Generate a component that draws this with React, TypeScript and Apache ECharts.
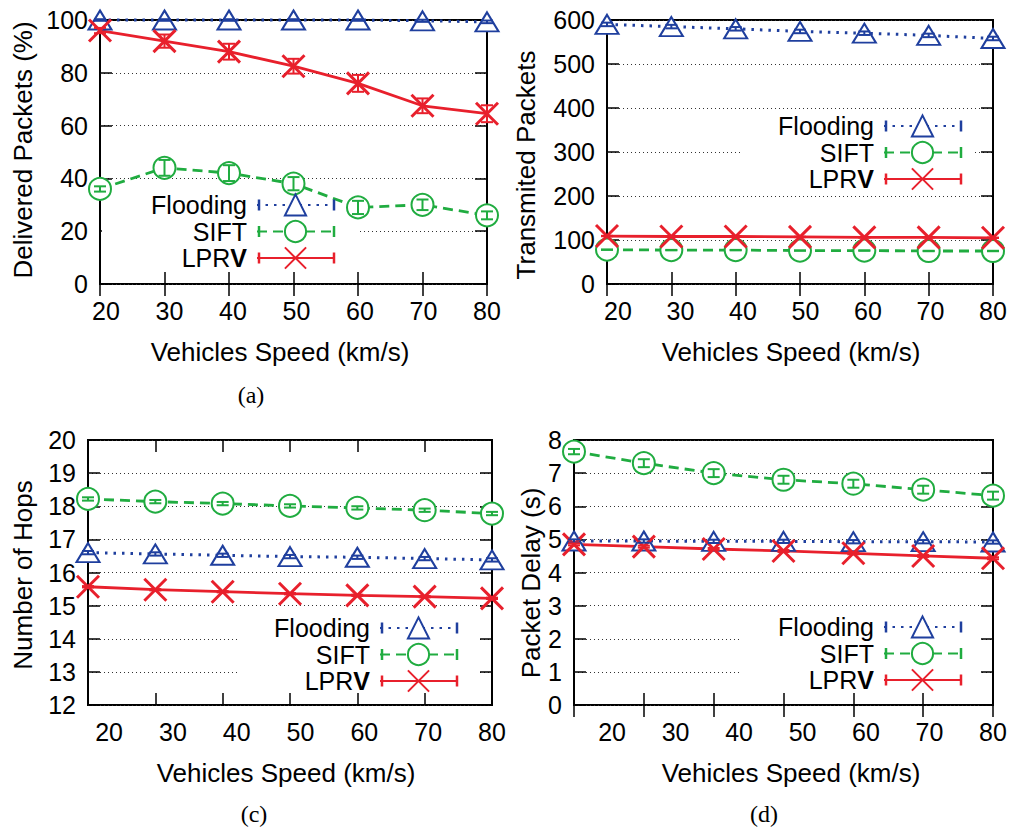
import React, { useEffect, useRef } from 'react';
import * as echarts from 'echarts';

// ---------- data ----------
const speeds = [20, 30, 40, 50, 60, 70, 80];
const seriesNames = ['Flooding', 'SIFT', 'LPRV'];

// (a) Delivered Packets (%)
const deliveredFlooding = [100, 100, 100, 100, 100, 99.7, 99.3];
const deliveredSift = [36, 44, 42, 38, 29, 30, 26];
const deliveredLprv = [96, 92, 88, 82.5, 76, 67.5, 64.5];
const deliveredFloodingErr = [0.3, 0.3, 0.3, 0.3, 0.3, 0.4, 0.5];
const deliveredSiftErr = [1, 3, 3, 2.5, 2.5, 2, 1.5];
const deliveredLprvErr = [1, 2.5, 3, 2.8, 3.2, 2.8, 3.2];

// (b) Transmited Packets
const transmittedFlooding = [590, 585, 580, 574, 570, 565, 558];
const transmittedSift = [78, 77, 77, 76, 76, 75, 75];
const transmittedLprv = [109, 108, 108, 107, 106, 106, 105];
const transmittedFloodingErr = [4, 4, 4, 4, 4, 4, 4];
const transmittedSiftErr = [0.5, 0.5, 0.5, 0.5, 0.5, 0.5, 0.5];
const transmittedLprvErr = [0.5, 0.5, 0.5, 0.5, 0.5, 0.5, 0.5];

// (c) Number of Hops
const hopsFlooding = [16.6, 16.56, 16.52, 16.48, 16.46, 16.42, 16.38];
const hopsSift = [18.22, 18.14, 18.08, 18.01, 17.95, 17.88, 17.78];
const hopsLprv = [15.57, 15.48, 15.42, 15.36, 15.31, 15.27, 15.22];
const hopsFloodingErr = [0.05, 0.05, 0.05, 0.05, 0.05, 0.05, 0.05];
const hopsSiftErr = [0.05, 0.05, 0.05, 0.05, 0.05, 0.05, 0.05];
const hopsLprvErr = [0.02, 0.02, 0.02, 0.02, 0.02, 0.02, 0.02];

// (d) Packet Delay (s)
const delayFlooding = [4.95, 4.95, 4.94, 4.94, 4.93, 4.93, 4.92];
const delaySift = [7.65, 7.3, 7.0, 6.8, 6.68, 6.5, 6.32];
const delayLprv = [4.85, 4.78, 4.71, 4.65, 4.58, 4.5, 4.43];
const delayFloodingErr = [0.05, 0.05, 0.05, 0.05, 0.05, 0.05, 0.05];
const delaySiftErr = [0.08, 0.12, 0.12, 0.12, 0.12, 0.12, 0.12];
const delayLprvErr = [0.03, 0.03, 0.03, 0.03, 0.03, 0.03, 0.03];

// y axis ranges [min, max, interval]
const deliveredRange = [0, 100, 20];
const transmittedRange = [0, 600, 100];
const hopsRange = [12, 20, 1];
const delayRange = [0, 8, 1];

// ---------- style ----------
const BLUE = '#1f3f9e';
const GREEN = '#20ac40';
const RED = '#e8202c';
const SANS = '"Liberation Sans", Arial, Helvetica, sans-serif';
const SERIF = '"Liberation Serif", "DejaVu Serif", serif';
const DOT: number[] = [2.5, 6];
const DASH: number[] = [10, 6];
const X_SYMBOL = 'path://M0,0L20,20M20,0L0,20';

const panels = [
  {
    grid: { left: 100, top: 20, width: 387, height: 264 },
    labelMin: 19.06,
    range: deliveredRange,
    values: [deliveredFlooding, deliveredSift, deliveredLprv],
    errs: [deliveredFloodingErr, deliveredSiftErr, deliveredLprvErr],
    yTitle: 'Delivered Packets (%)', yTitlePos: [23, 150],
    xTitlePos: [280, 352],
    caption: '(a)', captionPos: [251, 395],
    legendRight: 335, legendRowY: 205,
    hideRect: [102, 190, 258, 82],
  },
  {
    grid: { left: 607, top: 20, width: 386, height: 264 },
    labelMin: 18.24,
    range: transmittedRange,
    values: [transmittedFlooding, transmittedSift, transmittedLprv],
    errs: [transmittedFloodingErr, transmittedSiftErr, transmittedLprvErr],
    yTitle: 'Transmited Packets', yTitlePos: [526, 165],
    xTitlePos: [791, 352],
    caption: '', captionPos: [0, 0],
    legendRight: 962, legendRowY: 126,
    hideRect: [740, 113, 235, 78],
  },
  {
    grid: { left: 88, top: 440, width: 404, height: 265 },
    labelMin: 16.7,
    range: hopsRange,
    values: [hopsFlooding, hopsSift, hopsLprv],
    errs: [hopsFloodingErr, hopsSiftErr, hopsLprvErr],
    yTitle: 'Number of Hops', yTitlePos: [23, 575],
    xTitlePos: [286, 773],
    caption: '(c)', captionPos: [254, 814],
    legendRight: 458, legendRowY: 628,
    hideRect: [238, 613, 242, 79],
  },
  {
    grid: { left: 574, top: 440, width: 419, height: 265 },
    labelMin: 14.0,
    range: delayRange,
    values: [delayFlooding, delaySift, delayLprv],
    errs: [delayFloodingErr, delaySiftErr, delayLprvErr],
    yTitle: 'Packet Delay (s)', yTitlePos: [531, 583],
    xTitlePos: [791, 773],
    caption: '(d)', captionPos: [764, 814],
    legendRight: 962, legendRowY: 627,
    hideRect: [741, 613, 240, 79],
  },
];

const seriesStyles = [
  { color: BLUE, symbol: 'emptyTriangle', symbolSize: [23, 19], dash: DOT as any, width: 3, itemStyle: { color: BLUE, borderWidth: 3 } },
  { color: GREEN, symbol: 'emptyCircle', symbolSize: 22, dash: DASH as any, width: 2.8, itemStyle: { color: GREEN, borderWidth: 2.8 } },
  { color: RED, symbol: X_SYMBOL, symbolSize: 22, dash: 'solid' as any, width: 2.8, itemStyle: { color: RED, borderColor: RED, borderWidth: 3 } },
];

function buildOption() {
  const grid: any[] = [];
  const xAxis: any[] = [];
  const yAxis: any[] = [];
  const series: any[] = [];
  const legend: any[] = [];
  const graphic: any[] = [];
  const ITEM_H = 26.5;
  const ITEM_W = 77;

  panels.forEach((p, i) => {
    grid.push({ ...p.grid, show: true, borderColor: '#000', borderWidth: 2, backgroundColor: 'transparent' });

    const catAxis = (position: string) => ({
      type: 'category', gridIndex: i, data: speeds.map(String), boundaryGap: false, position,
      axisLine: { show: false },
      axisTick: { show: true, inside: true, length: 12, interval: 0, lineStyle: { color: '#000', width: 1.5 } },
      axisLabel: { show: false }, splitLine: { show: false },
    });
    xAxis.push(catAxis('bottom'));
    xAxis.push(catAxis('top'));
    xAxis.push({
      type: 'value', gridIndex: i, position: 'bottom', min: p.labelMin, max: 80,
      axisLine: { show: false }, axisTick: { show: false }, splitLine: { show: false },
      axisLabel: { customValues: speeds, fontSize: 25, color: '#000', fontFamily: SANS, margin: 14 },
    });

    const [ymin, ymax, yint] = p.range;
    const valAxis = (position: string, labels: boolean) => ({
      type: 'value', gridIndex: i, position, min: ymin, max: ymax, interval: yint,
      axisLine: { show: false },
      axisTick: { show: true, inside: true, length: 12, lineStyle: { color: '#000', width: 1.5 } },
      axisLabel: { show: labels, fontSize: 25, color: '#000', fontFamily: SANS, margin: 12 },
      splitLine: { show: labels, lineStyle: { type: [1, 3], color: '#333', width: 1 } },
    });
    yAxis.push(valAxis('left', true));
    yAxis.push(valAxis('right', false));

    seriesNames.forEach((name, k) => {
      const st = seriesStyles[k];
      series.push({
        type: 'line', name, xAxisIndex: i * 3, yAxisIndex: i * 2,
        data: p.values[k],
        symbol: st.symbol, symbolSize: st.symbolSize, showAllSymbol: true,
        lineStyle: { color: st.color, width: st.width, type: st.dash },
        itemStyle: st.itemStyle,
        clip: false, z: 3, silent: true,
      });
      const errs = p.errs[k];
      series.push({
        type: 'custom', name: name + ' error', xAxisIndex: i * 3, yAxisIndex: i * 2,
        data: p.values[k].map((v, j) => [j, v, errs[j]]),
        renderItem: (_params: any, api: any) => {
          const x = api.value(0);
          const y = api.value(1);
          const e = api.value(2);
          const t = api.coord([x, y + e]);
          const b = api.coord([x, y - e]);
          const cw = 6;
          const style = { stroke: st.color, lineWidth: 2 };
          return {
            type: 'group',
            children: [
              { type: 'line', shape: { x1: t[0], y1: t[1], x2: b[0], y2: b[1] }, style },
              { type: 'line', shape: { x1: t[0] - cw, y1: t[1], x2: t[0] + cw, y2: t[1] }, style },
              { type: 'line', shape: { x1: b[0] - cw, y1: b[1], x2: b[0] + cw, y2: b[1] }, style },
            ],
          };
        },
        z: 4, silent: true, clip: false,
      });
    });

    legend.push({
      orient: 'vertical', right: 1010 - p.legendRight, top: p.legendRowY - ITEM_H / 2,
      align: 'right', itemWidth: ITEM_W, itemHeight: ITEM_H, itemGap: 0, padding: 0,
      selectedMode: false, data: seriesNames,
      formatter: (n: string) => (n === 'LPRV' ? 'LPR{b|V}' : n),
      textStyle: {
        fontSize: 25, color: '#000', fontFamily: SANS, lineHeight: ITEM_H, padding: [0, 5, 0, 0],
        rich: { b: { fontSize: 25, fontWeight: 'bold', color: '#000', fontFamily: SANS, lineHeight: ITEM_H } },
      },
    });

    // white box behind legend (hides grid lines like the original)
    const [rx, ry, rw, rh] = p.hideRect;
    graphic.push({ type: 'rect', z: 1, silent: true, shape: { x: rx, y: ry, width: rw, height: rh }, style: { fill: '#fff' } });

    // error-bar end caps of the legend samples
    seriesNames.forEach((_n, k) => {
      const st = seriesStyles[k];
      const cy = p.legendRowY + k * ITEM_H;
      [p.legendRight - ITEM_W + 1, p.legendRight - 1].forEach((cx) => {
        graphic.push({
          type: 'line', z: 5, silent: true,
          shape: { x1: cx, y1: cy - 5.5, x2: cx, y2: cy + 5.5 },
          style: { stroke: st.color, lineWidth: 2.5 },
        });
      });
    });

    graphic.push({
      type: 'text', silent: true, x: p.yTitlePos[0], y: p.yTitlePos[1], rotation: Math.PI / 2,
      style: { text: p.yTitle, fontSize: 26, fontFamily: SANS, fill: '#000', align: 'center', verticalAlign: 'middle' },
    });
    graphic.push({
      type: 'text', silent: true, x: p.xTitlePos[0], y: p.xTitlePos[1],
      style: { text: 'Vehicles Speed (km/s)', fontSize: 26, fontFamily: SANS, fill: '#000', align: 'center', verticalAlign: 'middle' },
    });
    if (p.caption) {
      graphic.push({
        type: 'text', silent: true, x: p.captionPos[0], y: p.captionPos[1],
        style: { text: p.caption, fontSize: 24, fontFamily: SERIF, fill: '#000', align: 'center', verticalAlign: 'middle' },
      });
    }
  });

  return { animation: false, backgroundColor: '#fff', grid, xAxis, yAxis, series, legend, graphic };
}

export default function App() {
  const ref = useRef<HTMLDivElement>(null);
  useEffect(() => {
    if (!ref.current) return;
    const chart = echarts.init(ref.current, null, { renderer: 'svg' });
    chart.setOption(buildOption() as any);
    return () => chart.dispose();
  }, []);
  return (
    <div
      ref={ref}
      style={{ position: 'fixed', left: 0, top: 0, width: 1010, height: 834, background: '#fff' }}
    />
  );
}
